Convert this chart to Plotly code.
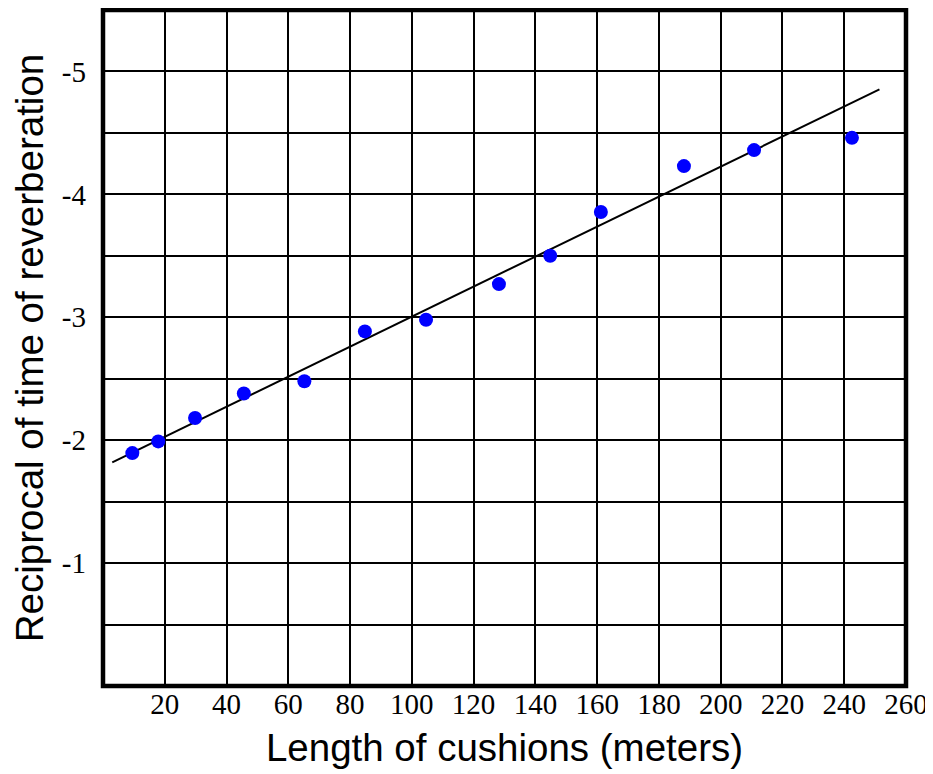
import plotly.graph_objects as go

# Data
cushion_length = [9.5, 17.9, 29.8, 45.6, 65.2, 84.8, 104.6, 128.2, 144.8, 161.2, 188.1, 210.8, 242.5]
reciprocal_time = [-1.895, -1.99, -2.18, -2.38, -2.48, -2.885, -2.98, -3.27, -3.50, -3.856, -4.23, -4.36, -4.46]

fit_x = [3.0, 251.4]
fit_y = [-1.82, -4.854]

x_tickvals = [20, 40, 60, 80, 100, 120, 140, 160, 180, 200, 220, 240, 260]
x_ticktext = ["20", "40", "60", "80", "100", "120", "140", "160", "180", "200", "220", "240", "260"]
y_tickvals = [-0.5, -1, -1.5, -2, -2.5, -3, -3.5, -4, -4.5, -5]
y_ticktext = ["", "-1", "", "-2", "", "-3", "", "-4", "", "-5"]

fig = go.Figure()
fig.add_trace(go.Scatter(x=fit_x, y=fit_y, mode="lines",
                         line=dict(color="black", width=2), showlegend=False, hoverinfo="skip"))
fig.add_trace(go.Scatter(x=cushion_length, y=reciprocal_time, mode="markers",
                         marker=dict(color="#0000ff", size=14, line=dict(width=0)), showlegend=False))

fig.update_layout(
    width=925, height=766,
    margin=dict(l=95, r=27, t=2, b=88),
    paper_bgcolor="white", plot_bgcolor="white",
    showlegend=False,
    xaxis=dict(range=[0, 260], tickvals=x_tickvals, ticktext=x_ticktext,
               showgrid=True, gridcolor="black", gridwidth=2, zeroline=False,
               ticks="", ticklabelstandoff=-2, automargin=False,
               tickfont=dict(family="Liberation Serif", size=29, color="black"),
               title=dict(text="Length of cushions (meters)", standoff=15,
                          font=dict(family="Liberation Sans", size=38.5, color="black"))),
    yaxis=dict(range=[0, -5.5], tickvals=y_tickvals, ticktext=y_ticktext,
               showgrid=True, gridcolor="black", gridwidth=2, zeroline=False,
               ticks="", ticklabelstandoff=16, automargin=False,
               tickfont=dict(family="Liberation Serif", size=29, color="black"),
               title=dict(text="Reciprocal of time of reverberation", standoff=19,
                          font=dict(family="Liberation Sans", size=38.5, color="black"))),
    shapes=[dict(type="rect", xref="paper", yref="paper", x0=0, x1=1, y0=0, y1=1,
                 line=dict(color="black", width=4.5), layer="above")],
)

fig.write_html("out.html")
